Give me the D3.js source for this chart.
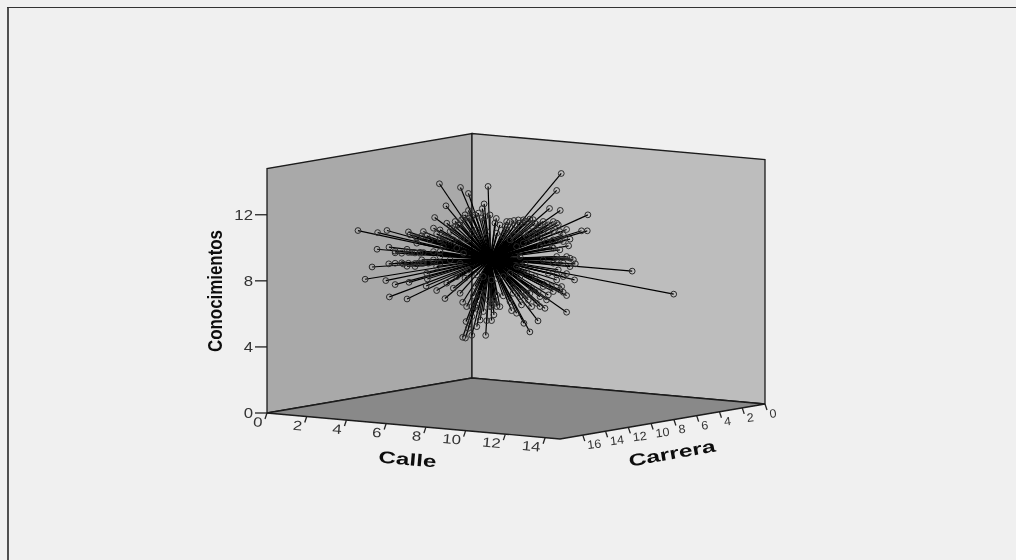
<!DOCTYPE html>
<html>
<head>
<meta charset="utf-8">
<script src="https://cdn.jsdelivr.net/npm/d3@7"></script>
<style>
html, body { margin: 0; padding: 0; background: #f0f0f0; overflow: hidden; }
text { font-family: "Liberation Sans", Arial, sans-serif; }
</style>
</head>
<body>
<svg width="1016" height="560"></svg>
<script>
// axis ranges and ticks
var calleMax = 14.75, carreraMax = 18, conocMax = 14.8;
var calleTicks = [0,2,4,6,8,10,12,14];
var carreraTicks = [0,2,4,6,8,10,12,14,16];
var conocTicks = [0,4,8,12];

// points, carrera = 12 group
var calleA = [1.14,2.13,2.60,3.68,4.35,4.60,2.10,2.70,3.01,3.61,4.43,4.94,1.85,2.69,3.61,5.10,1.50,2.54,3.01,3.71,4.63,4.57,5.10,2.72,3.61,5.52,6.41,5.27,6.11,6.53,7.03,6.95,5.24,6.30,6.70,5.57,5.00,6.70,6.28,5.78,5.57,7.49,7.40,6.55,6.87,6.41,6.58,7.29,7.03,7.45,7.57,7.62,7.69,4.10,5.27,6.03,6.45,5.44,5.78,5.61,5.94,6.28,6.61,6.87,7.12,6.70,7.20,5.94,4.94,4.35,4.01,3.84,4.18,4.68,3.42,4.10,4.60,6.61,6.87,7.12,6.45,6.28,6.70,7.12,7.45,7.29,7.62,6.11,6.36,
    3.76,4.10,4.43,4.77,4.94,5.10,5.27,5.44,5.61,5.86,6.03,6.19,6.36,6.53,6.70,6.87,7.03,7.20,7.37,7.54,7.20,6.87,7.29,4.26,5.27,4.43,5.27,
    3.01,3.34,3.68,4.01,4.26,3.01,3.34,3.68,4.01,4.35];
var conocA = [10.46,10.44,10.62,10.65,10.48,10.51,9.43,9.62,9.41,9.59,9.48,9.59,8.33,8.61,8.56,8.70,7.55,7.58,7.39,7.60,7.90,7.47,7.25,6.61,6.58,6.81,6.68,9.33,8.20,8.15,7.70,7.12,13.73,13.62,13.30,12.43,11.66,12.27,11.35,10.90,10.51,12.75,12.46,4.53,4.73,4.56,5.53,5.70,6.48,6.23,4.80,5.70,13.83,10.01,10.34,11.23,11.78,9.95,9.18,7.75,7.48,7.21,6.44,5.86,5.28,5.14,6.91,10.41,9.09,9.03,8.59,9.42,8.81,8.86,8.68,10.37,8.24,10.48,10.91,11.14,9.65,9.03,8.67,8.41,8.35,10.75,11.09,9.92,10.55,
    10.48,10.31,10.75,10.28,11.01,10.68,10.94,10.52,11.38,11.11,11.53,11.34,11.67,11.99,11.80,11.92,12.04,12.16,11.87,11.99,6.30,6.47,7.32,9.42,9.63,8.83,8.92,
    9.31,9.32,9.40,9.41,9.48,8.68,8.74,8.75,8.77,8.82];

// carrera = 8 group
var calleB = [9.08,8.85,8.49,9.03,10.42,10.10,10.39,9.35,9.52,9.45,8.63,12.65,14.74,9.75,9.35,9.79,9.69,9.35,8.85,9.35,9.35,9.18,8.43,8.26,7.91,7.50,7.20,6.58,7.08,6.50,7.84,8.01,9.01,8.85,8.17,5.81,6.33,6.70,7.17,8.01,8.85,8.34,7.00,5.69,5.57,5.83,6.16,7.67,8.68,9.01,8.34,8.01,8.93,8.68,8.17,9.52,8.43,7.76,8.59,8.01,7.59,6.83,7.42,5.99,5.74,5.49,6.66,7.34,6.33,7.84,9.18,8.68,8.34,7.34,7.00,7.59,9.01,5.83,6.16,6.50,6.83,7.00,6.83,6.50,6.16,5.83,5.57,6.66,7.17,7.25,7.34,7.00,
    5.49,5.74,5.99,6.25,6.50,6.75,6.92,7.17,7.34,7.50,7.76,7.92,8.17,8.43,8.68,8.93,9.01,9.18,8.17,7.84,7.50,7.17,6.83,8.68,8.01,9.18,7.59,8.68,
    5.41,5.57,5.69,5.83,6.66,7.08,7.50,7.92,8.34,8.85,9.10,8.85,9.52,9.18];
var conocB = [14.29,13.24,12.11,12.05,11.93,10.93,10.96,10.93,10.36,9.95,9.78,8.76,7.59,7.92,8.26,8.90,9.13,9.29,9.24,5.92,6.93,7.11,6.87,6.04,5.24,4.53,5.02,5.72,6.12,6.26,6.30,6.12,7.24,7.82,7.35,11.22,11.09,11.19,11.28,11.07,11.26,11.00,11.06,5.37,5.01,6.59,6.57,11.34,10.74,10.27,10.09,9.76,8.44,8.82,8.96,8.70,8.18,7.91,7.39,6.72,6.07,5.59,6.46,5.90,6.08,5.85,6.78,10.29,10.59,10.44,8.06,7.10,6.56,6.85,6.62,7.18,9.66,10.33,10.26,10.00,9.63,9.04,8.42,7.98,7.74,7.60,7.47,10.32,9.87,8.66,8.17,7.83,
    11.40,10.93,10.85,10.78,11.11,10.93,11.25,11.08,11.20,11.36,11.14,10.96,11.29,11.11,11.34,11.17,10.77,10.59,10.68,10.75,10.61,10.47,10.54,10.23,10.26,10.18,10.11,9.73,
    6.24,5.86,6.27,5.89,7.19,6.93,6.87,7.02,7.57,8.13,7.45,9.04,9.21,8.87];

var points = [];
calleA.forEach(function(c, i) { points.push({calle: c, carrera: 12, conoc: conocA[i]}); });
calleB.forEach(function(c, i) { points.push({calle: c, carrera: 8, conoc: conocB[i]}); });

var svg = d3.select('svg');

// the reference is a soft scan, so blur everything a touch
svg.append('defs').append('filter').attr('id', 'soft')
    .append('feGaussianBlur').attr('stdDeviation', 0.45);

// oblique projection: one scale per screen contribution
var calleX = d3.scaleLinear().domain([0, calleMax]).range([0, 293]);
var calleY = d3.scaleLinear().domain([0, calleMax]).range([0, 26]);
var carreraX = d3.scaleLinear().domain([0, carreraMax]).range([0, -205]);
var carreraY = d3.scaleLinear().domain([0, carreraMax]).range([0, 35]);
var conocY = d3.scaleLinear().domain([0, conocMax]).range([0, 244.5]);

function px(c, k) { return 472 + calleX(c) + carreraX(k); }
function py(c, k, z) { return 378 + calleY(c) + carreraY(k) - conocY(z); }
function poly(corners) {
    return corners.map(function(p) { return px(p[0], p[1]) + ',' + py(p[0], p[1], p[2]); }).join(' ');
}

// frame
svg.append('line').attr('x1', 8).attr('x2', 8).attr('y1', 7).attr('y2', 560).attr('stroke', '#333').attr('stroke-width', 1.7);
svg.append('line').attr('x1', 7).attr('x2', 1016).attr('y1', 7.5).attr('y2', 7.5).attr('stroke', '#333').attr('stroke-width', 1.2);

var chart = svg.append('g').attr('filter', 'url(#soft)');

// walls and floor
chart.append('polygon').attr('points', poly([[0,carreraMax,0],[0,0,0],[0,0,conocMax],[0,carreraMax,conocMax]]))
    .attr('fill', '#a9a9a9').attr('stroke', '#1a1a1a').attr('stroke-width', 1.3);
chart.append('polygon').attr('points', poly([[0,0,0],[calleMax,0,0],[calleMax,0,conocMax],[0,0,conocMax]]))
    .attr('fill', '#bdbdbd').attr('stroke', '#1a1a1a').attr('stroke-width', 1.3);
chart.append('polygon').attr('points', poly([[0,carreraMax,0],[calleMax,carreraMax,0],[calleMax,0,0],[0,0,0]]))
    .attr('fill', '#898989').attr('stroke', '#1a1a1a').attr('stroke-width', 1.3);

// conocimientos axis
conocTicks.forEach(function(t) {
    var x = px(0, carreraMax), y = py(0, carreraMax, t);
    chart.append('line').attr('x1', x - 12).attr('x2', x).attr('y1', y).attr('y2', y).attr('stroke', '#222').attr('stroke-width', 1.3);
    chart.append('text').attr('text-anchor', 'end').attr('font-size', 14).attr('fill', '#333')
        .attr('transform', 'translate(' + (x - 14) + ',' + (y + 5) + ') scale(1.2,1)').text(t);
});

// calle axis
calleTicks.forEach(function(t) {
    var x = px(t, carreraMax), y = py(t, carreraMax, 0);
    chart.append('line').attr('x1', x).attr('y1', y).attr('x2', x - 2).attr('y2', y + 6).attr('stroke', '#222').attr('stroke-width', 1.3);
    chart.append('text').attr('text-anchor', 'end').attr('font-size', 13.5).attr('fill', '#333')
        .attr('transform', 'translate(' + (x - 5) + ',' + (y + 14) + ') rotate(5) scale(1.25,1)').text(t);
});

// carrera axis
carreraTicks.forEach(function(t) {
    var x = px(calleMax, t), y = py(calleMax, t, 0);
    chart.append('line').attr('x1', x).attr('y1', y).attr('x2', x + 2).attr('y2', y + 6).attr('stroke', '#222').attr('stroke-width', 1.3);
    chart.append('text').attr('font-size', 12).attr('fill', '#333')
        .attr('transform', 'translate(' + (x + 5) + ',' + (y + 14) + ') rotate(-7) scale(1.05,1)').text(t);
});

// axis titles
chart.append('text').attr('transform', 'translate(407,465) rotate(5)').attr('text-anchor', 'middle')
    .attr('font-size', 17).attr('font-weight', 'bold').attr('fill', '#111').attr('textLength', 58).attr('lengthAdjust', 'spacingAndGlyphs').text('Calle');
chart.append('text').attr('transform', 'translate(673,459) rotate(-10)').attr('text-anchor', 'middle')
    .attr('font-size', 17).attr('font-weight', 'bold').attr('fill', '#111').attr('textLength', 88).attr('lengthAdjust', 'spacingAndGlyphs').text('Carrera');
chart.append('text').attr('transform', 'translate(222,291) rotate(-90)').attr('text-anchor', 'middle')
    .attr('font-size', 20).attr('font-weight', 'bold').attr('fill', '#111').attr('textLength', 122).attr('lengthAdjust', 'spacingAndGlyphs').text('Conocimientos');

// spikes go from the centroid to every point
var centre = {
    calle: d3.mean(points, function(d) { return d.calle; }),
    carrera: d3.mean(points, function(d) { return d.carrera; }),
    conoc: d3.mean(points, function(d) { return d.conoc; })
};
var cx = px(centre.calle, centre.carrera), cy = py(centre.calle, centre.carrera, centre.conoc);

chart.append('g').selectAll('line').data(points).join('line')
    .attr('x1', cx).attr('y1', cy)
    .attr('x2', function(d) { return px(d.calle, d.carrera); })
    .attr('y2', function(d) { return py(d.calle, d.carrera, d.conoc); })
    .attr('stroke', '#000').attr('stroke-width', 1.2);

chart.append('g').selectAll('circle').data(points).join('circle')
    .attr('cx', function(d) { return px(d.calle, d.carrera); })
    .attr('cy', function(d) { return py(d.calle, d.carrera, d.conoc); })
    .attr('r', 2.9)
    .attr('fill', 'none').attr('stroke', '#2a2a2a').attr('stroke-width', 1);
</script>
</body>
</html>
